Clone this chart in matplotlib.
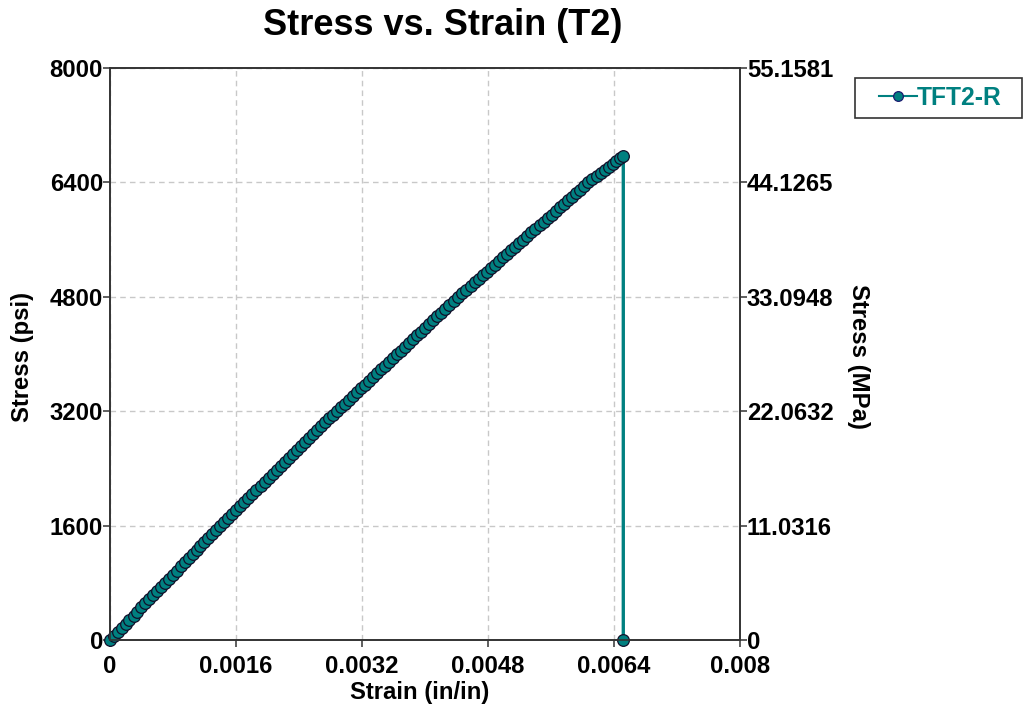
import numpy as np
import matplotlib
matplotlib.use("Agg")
import matplotlib.pyplot as plt
from matplotlib import font_manager as fm
from matplotlib.patches import Rectangle
from matplotlib.ticker import FixedLocator, FixedFormatter

# Use the regular-width Liberation Sans faces only (skip the Narrow variant)
fm.fontManager.ttflist = [f for f in fm.fontManager.ttflist
                          if 'Narrow' not in f.fname and 'Narrow' not in f.name]
plt.rcParams['font.family'] = ['Liberation Sans', 'DejaVu Sans']
plt.rcParams['font.weight'] = 'bold'

# Measured strain (microstrain) and stress (psi) for specimen TFT2-R
strain_micro = [
    0, 48, 98, 148, 197, 247, 299, 348, 397, 449, 499, 548, 599, 648, 699,
    749, 798, 849, 900, 948, 998, 1048, 1099, 1148, 1198, 1249, 1299, 1348, 1397,
    1448, 1501, 1553, 1603, 1654, 1706, 1758, 1809, 1860, 1912, 1964, 2016, 2066,
    2117, 2169, 2221, 2272, 2323, 2374, 2427, 2479, 2528, 2580, 2632, 2684, 2735,
    2786, 2832, 2878,
    2929, 2980, 3032, 3083, 3134, 3185, 3237, 3288, 3339, 3390, 3442, 3493, 3544,
    3594, 3646, 3697, 3749, 3800, 3851, 3901, 3953, 4004, 4056, 4106, 4158, 4208,
    4260, 4310, 4363, 4423,
    4475, 4526, 4579, 4629, 4681, 4734, 4784, 4836, 4887, 4939, 4991, 5042, 5094,
    5145, 5198, 5249, 5300, 5352, 5403, 5455, 5507, 5558, 5610, 5661, 5713, 5765,
    5816, 5868, 5919, 5971, 6023, 6074,
    6126, 6179, 6231, 6283, 6335, 6385, 6430, 6478, 6518,
    6518,
]
stress_psi = [
    0, 55, 112, 170, 226, 283, 342, 398, 455, 514, 571, 628, 686, 742, 800,
    858, 914, 972, 1030, 1086, 1143, 1200, 1258, 1315, 1372, 1430, 1487, 1544, 1600,
    1655, 1712, 1768, 1822, 1878, 1934, 1990, 2045, 2100, 2156, 2212, 2268, 2322,
    2378, 2434, 2490, 2545, 2600, 2655, 2712, 2768, 2822, 2878, 2934, 2990, 3045,
    3100, 3150, 3200,
    3253, 3306, 3360, 3412, 3465, 3518, 3572, 3625, 3678, 3730, 3784, 3837, 3890,
    3942, 3996, 4048, 4102, 4155, 4208, 4260, 4314, 4366, 4420, 4472, 4526, 4578,
    4632, 4684, 4738, 4800,
    4850, 4900, 4951, 5000, 5050, 5101, 5150, 5200, 5250, 5300, 5350, 5400, 5450,
    5500, 5551, 5600, 5650, 5700, 5750, 5800, 5850, 5900, 5950, 6000, 6050, 6100,
    6150, 6200, 6250, 6300, 6350, 6400,
    6444, 6488, 6532, 6576, 6620, 6662, 6700, 6740, 6774,
    0,
]

x_ticks = [0, 0.0016, 0.0032, 0.0048, 0.0064, 0.008]
x_tick_labels = ['0', '0.0016', '0.0032', '0.0048', '0.0064', '0.008']
psi_ticks = [0, 1600, 3200, 4800, 6400, 8000]
psi_tick_labels = ['0', '1600', '3200', '4800', '6400', '8000']
mpa_ticks = [0, 11.0316, 22.0632, 33.0948, 44.1265, 55.1581]
mpa_tick_labels = ['0', '11.0316', '22.0632', '33.0948', '44.1265', '55.1581']

series_name = 'TFT2-R'
teal = '#008080'
edge = '#10102a'
axis_color = '#333333'
tick_fs = 17.2

strain = np.array(strain_micro) * 1e-6
stress = np.array(stress_psi)

W, H = 1028, 711
fig = plt.figure(figsize=(W / 100, H / 100), dpi=100)
ax = fig.add_axes([110 / W, 1 - 640 / H, 630 / W, 572 / H])

line, = ax.plot(strain, stress, color=teal, lw=2.4, marker='o', ms=8.4,
                mfc=teal, mec=edge, mew=0.9, clip_on=False, zorder=3,
                label=series_name)

ax.set_xlim(0, 0.008)
ax.set_ylim(0, 8000)
ax.xaxis.set_major_locator(FixedLocator(x_ticks))
ax.xaxis.set_major_formatter(FixedFormatter(x_tick_labels))
ax.yaxis.set_major_locator(FixedLocator(psi_ticks))
ax.yaxis.set_major_formatter(FixedFormatter(psi_tick_labels))
ax.grid(True, color='#c8c8c8', linestyle=(0, (4, 3)), lw=1.0)
ax.set_axisbelow(True)

ax2 = ax.twinx()
ax2.set_ylim(0, 55.1581)
ax2.yaxis.set_major_locator(FixedLocator(mpa_ticks))
ax2.yaxis.set_major_formatter(FixedFormatter(mpa_tick_labels))

for a in (ax, ax2):
    for s in a.spines.values():
        s.set_color(axis_color)
        s.set_linewidth(1.2)
    a.tick_params(direction='out', length=5, width=1.1, color=axis_color,
                  labelsize=tick_fs, pad=0)
    for lbl in a.get_xticklabels() + a.get_yticklabels():
        lbl.set_fontweight('bold')
ax.tick_params(axis='x', pad=6)

ax.set_xlabel('Strain (in/in)', fontsize=tick_fs, fontweight='bold')
ax.xaxis.set_label_coords((420 - 110) / 630, (640 - 681) / 572)
ax.set_ylabel('Stress (psi)', fontsize=tick_fs, fontweight='bold')
ax.yaxis.set_label_coords((34 - 110) / 630, (640 - 357) / 572)
ax2.set_ylabel('Stress (MPa)', fontsize=tick_fs, fontweight='bold',
               rotation=270, va='bottom')
ax2.yaxis.set_label_coords((847 - 110) / 630, (640 - 357) / 572)

fig.text(443 / W, 1 - 35 / H, 'Stress vs. Strain (T2)', ha='center',
         va='baseline', fontsize=26, fontweight='bold')

# Legend: entry placed inside a separately drawn frame
fig.add_artist(Rectangle((855 / W, 1 - 118 / H), 167 / W, 40 / H,
                         transform=fig.transFigure, fill=False,
                         ec=axis_color, lw=1.2))
leg = fig.legend(handles=[line], loc='center left',
                 bbox_to_anchor=(879 / W, 1 - 98 / H), frameon=False,
                 fontsize=tick_fs + 0.5, handlelength=1.55, handletextpad=0.0,
                 borderpad=0, borderaxespad=0)
for t in leg.get_texts():
    t.set_color(teal)
    t.set_fontweight('bold')
leg.legend_handles[0].set_markeredgecolor('#1a1a70')
leg.legend_handles[0].set_markersize(7)
leg.legend_handles[0].set_linewidth(1.5)

fig.savefig('out.png', dpi=100)
